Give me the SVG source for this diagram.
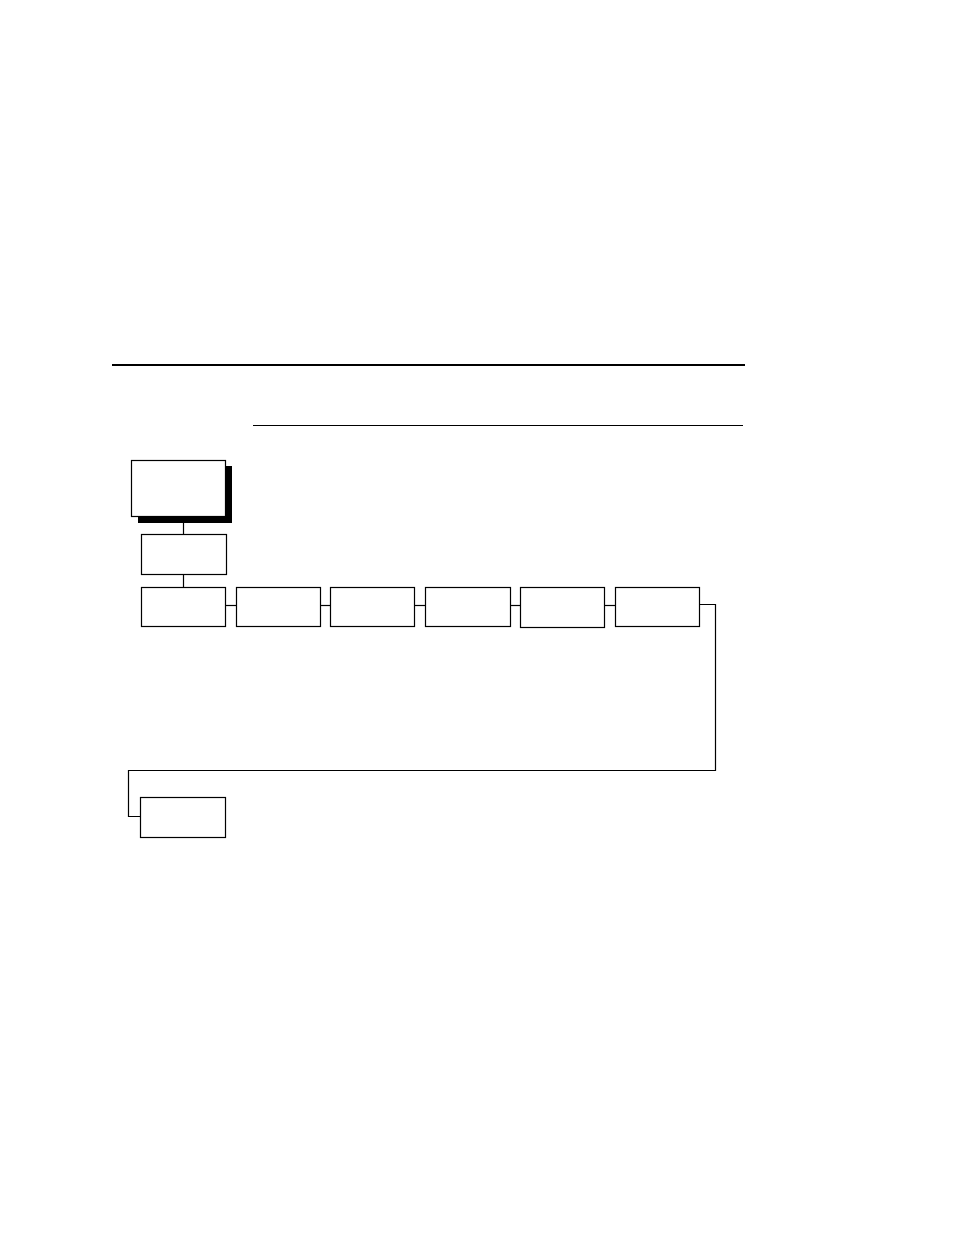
<svg xmlns="http://www.w3.org/2000/svg" width="954" height="1235" viewBox="0 0 954 1235">
<style>
.box{fill:#fff;stroke:#000;stroke-width:1.2}
.wire{fill:none;stroke:#000;stroke-width:1.2}
</style>
<rect width="954" height="1235" fill="#fff"/>
<line x1="112" y1="365" x2="745" y2="365" stroke="#000" stroke-width="2"/>
<line x1="253" y1="425.5" x2="743" y2="425.5" stroke="#000" stroke-width="1"/>
<g id="connectors">
<path class="wire" d="M183.5 522 V535"/>
<path class="wire" d="M183.5 574 V588"/>
<path class="wire" d="M225.5 605.5 H236.5"/>
<path class="wire" d="M320.5 605.5 H330.5"/>
<path class="wire" d="M414.5 605.5 H425.5"/>
<path class="wire" d="M510.5 605.5 H520.5"/>
<path class="wire" d="M604.5 605.5 H615.5"/>
<path class="wire" d="M699.5 604.5 H715.5 V770.5 H128.5 V816.5 H140.5"/>
</g>
<g id="node-main">
<rect x="138" y="466" width="94" height="57" fill="#000"/>
<rect class="box" x="131.5" y="460.5" width="94" height="56"/>
</g>
<g id="node-2"><rect class="box" x="141.5" y="534.5" width="85" height="40"/></g>
<g id="node-3"><rect class="box" x="141.5" y="587.5" width="84" height="39"/></g>
<g id="node-4"><rect class="box" x="236.5" y="587.5" width="84" height="39"/></g>
<g id="node-5"><rect class="box" x="330.5" y="587.5" width="84" height="39"/></g>
<g id="node-6"><rect class="box" x="425.5" y="587.5" width="85" height="39"/></g>
<g id="node-7"><rect class="box" x="520.5" y="587.5" width="84" height="40"/></g>
<g id="node-8"><rect class="box" x="615.5" y="587.5" width="84" height="39"/></g>
<g id="node-9"><rect class="box" x="140.5" y="797.5" width="85" height="40"/></g>
</svg>
